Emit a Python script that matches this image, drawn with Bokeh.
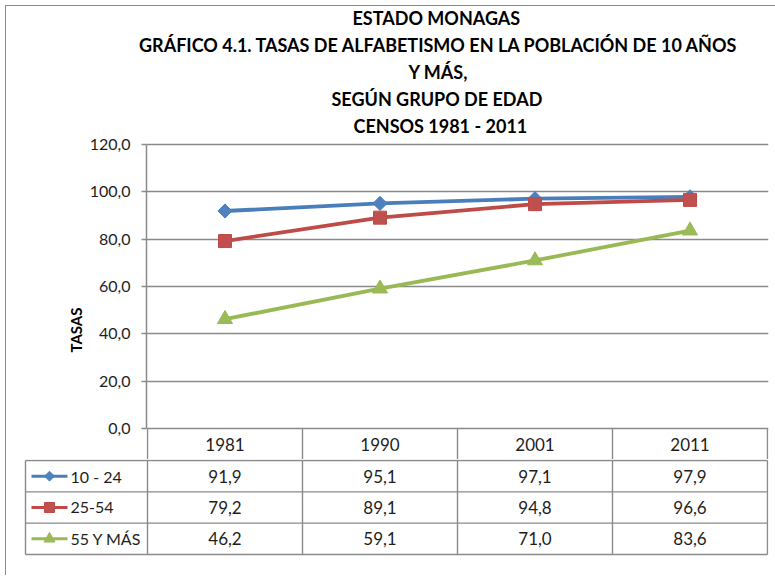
import math
from bokeh.plotting import figure
from bokeh.models import Range1d, FixedTicker, CustomJSTickFormatter, Title
from bokeh.embed import file_html
from bokeh.resources import INLINE
from bokeh.core.properties import value

# ---------------- data ----------------
years = ["1981", "1990", "2001", "2011"]
series_names = ["10 -  24", "25-54", "55 Y MÁS"]
rate_10_24 = [91.9, 95.1, 97.1, 97.9]
rate_25_54 = [79.2, 89.1, 94.8, 96.6]
rate_55_mas = [46.2, 59.1, 71.0, 83.6]
y_ticks = [0, 20, 40, 60, 80, 100, 120]
title_lines = [
    "ESTADO MONAGAS",
    "GRÁFICO 4.1.  TASAS DE ALFABETISMO EN LA POBLACIÓN DE 10 AÑOS",
    "Y MÁS,",
    "SEGÚN GRUPO DE EDAD",
    "CENSOS 1981 - 2011",
]
y_label = "TASAS"

# ---------------- styles ----------------
FONT = "Lato"
TXT = "#1e1e1e"
GRID = "#8a8a8a"
line_colors = ["#4A7EBB", "#BE4B48", "#98B954"]
fill_colors = ["#4F81BD", "#C0504D", "#9BBB59"]
markers = ["square", "square", "triangle"]
marker_angles = [math.pi / 4, 0, 0]
marker_sizes = [10, 13, 15]
key_sizes = [7, 10, 11]
# approximate rendered widths of the title lines (px), used to centre them at x=436
title_widths = [168, 595, 56, 210, 166]

series = [rate_10_24, rate_25_54, rate_55_mas]
n = len(years)
nrows = len(series)
xc = [i + 0.5 for i in range(n)]

PX_X = 155.0            # px per category
PX_Y = 2.3667           # px per percent unit
HEADER_PX = 32.0        # header row height in px
ROW_PX = 31.33          # data row height in px
FRAME_RIGHT = 768       # right edge of plot area / table
FIG_W = 775

# ---------------- chart figure (titles, plot, header row) ----------------
A_H = 459
a_left, a_top = 146, 138
y0_px = 428
ya_start = -(A_H - y0_px) / PX_Y
ya_end = (y0_px - a_top) / PX_Y
xa_start = -1 / PX_X
xa_end = xa_start + (FRAME_RIGHT - a_left) / PX_X

pA = figure(width=FIG_W, height=A_H, x_range=Range1d(xa_start, xa_end), y_range=Range1d(ya_start, ya_end),
            output_backend="svg", toolbar_location=None, x_axis_location=None,
            min_border_left=a_left, min_border_right=FIG_W - FRAME_RIGHT, min_border_top=a_top,
            min_border_bottom=0, border_fill_color=None,
            styles={"box-shadow": "inset 5px 5px 0 0 #ffffff, inset 6px 6px 0 0 #8a8a8a"})
pA.outline_line_color = None
pA.xgrid.visible = False
pA.background_fill_color = None

ya = pA.yaxis[0]
ya.ticker = FixedTicker(ticks=y_ticks)
ya.formatter = CustomJSTickFormatter(code="return tick.toFixed(1).replace('.', ',')")
ya.bounds = (min(y_ticks), max(y_ticks))
ya.minor_tick_line_color = None
ya.major_tick_out = 5
ya.major_tick_in = 0
ya.major_tick_line_color = GRID
ya.major_tick_line_width = 1.5
ya.axis_line_color = GRID
ya.axis_line_width = 1.5
ya.major_label_standoff = 11
ya.major_label_text_font = FONT
ya.major_label_text_font_size = "16px"
ya.major_label_text_color = TXT

pA.ygrid.ticker = FixedTicker(ticks=y_ticks)
pA.ygrid.grid_line_color = GRID
pA.ygrid.grid_line_width = 1.6

for k, vals in enumerate(series):
    pA.line(xc, vals, line_color=line_colors[k], line_width=3.8)
    pA.scatter(xc, vals, marker=markers[k], angle=marker_angles[k], size=marker_sizes[k],
               fill_color=fill_colors[k], line_color=line_colors[k], line_width=1)

# header row of the data table (below the x axis line)
hdr_bottom = -HEADER_PX / PX_Y
vx = list(range(n + 1))
pA.segment(x0=vx, y0=[0] * len(vx), x1=vx, y1=[ya_start] * len(vx), line_color=GRID, line_width=1.4)
pA.text(x=xc, y=[hdr_bottom / 2] * n, text=years, text_font=value(FONT), text_font_size="17px",
        text_color=TXT, text_align="center", text_baseline="middle")

for line, w in reversed(list(zip(title_lines, title_widths))):
    pA.add_layout(Title(text=line, align="left", offset=436 - a_left - w / 2, text_font=FONT,
                        text_font_size="18px", text_font_style="bold", text_color="#000000",
                        standoff=2.5), "above")

# y-axis title, placed along the lower part of the axis as in the original
pA.add_layout(Title(text=y_label, align="left", offset=A_H - 352, text_font=FONT,
                    text_font_size="15px", text_font_style="bold", text_color="#000000",
                    standoff=4), "left")

# ---------------- data rows of the table ----------------
B_H = 116
b_left = 22
row_top_px = 460 - A_H          # top line of first data row, within this figure
xb_start = (b_left - 147) / PX_X
xb_end = (FRAME_RIGHT - 147) / PX_X
yb_end = nrows + row_top_px / ROW_PX
yb_start = nrows - (B_H - row_top_px) / ROW_PX

pB = figure(width=FIG_W, height=B_H, x_range=Range1d(xb_start, xb_end), y_range=Range1d(yb_start, yb_end),
            output_backend="svg", toolbar_location=None, x_axis_location=None, y_axis_location=None,
            min_border_left=b_left, min_border_right=FIG_W - FRAME_RIGHT, min_border_top=0,
            min_border_bottom=0, border_fill_color=None,
            styles={"box-shadow": "inset 5px 0 0 0 #ffffff, inset 6px 0 0 0 #8a8a8a"})
pB.outline_line_color = None
pB.grid.visible = False
pB.background_fill_color = None

left_edge = (25 - 147) / PX_X
pB.segment(x0=vx, y0=[0] * len(vx), x1=vx, y1=[nrows] * len(vx), line_color=GRID, line_width=1.4)
pB.segment(x0=[left_edge], y0=[0], x1=[left_edge], y1=[nrows], line_color=GRID, line_width=1.4)
hy = list(range(nrows + 1))
pB.segment(x0=[left_edge] * len(hy), y0=hy, x1=[n] * len(hy), y1=hy, line_color=GRID, line_width=1.4)

key_x0 = (31 - 147) / PX_X
key_x1 = (67 - 147) / PX_X
key_xm = (49 - 147) / PX_X
lab_x = (70 - 147) / PX_X
for k, vals in enumerate(series):
    yrow = nrows - k - 0.5
    labels = [f"{v:.1f}".replace(".", ",") for v in vals]
    pB.text(x=xc, y=[yrow] * n, text=labels, text_font=value(FONT), text_font_size="17px",
            text_color=TXT, text_align="center", text_baseline="middle")
    pB.segment(x0=[key_x0], y0=[yrow], x1=[key_x1], y1=[yrow], line_color=line_colors[k], line_width=3)
    pB.scatter([key_xm], [yrow], marker=markers[k], angle=marker_angles[k], size=key_sizes[k],
               fill_color=fill_colors[k], line_color=line_colors[k])
    pB.text(x=[lab_x], y=[yrow], text=[series_names[k]], text_font=value(FONT), text_font_size="16px",
            text_color=TXT, text_align="left", text_baseline="middle")

open("out.html", "w").write(file_html([pA, pB], INLINE))
